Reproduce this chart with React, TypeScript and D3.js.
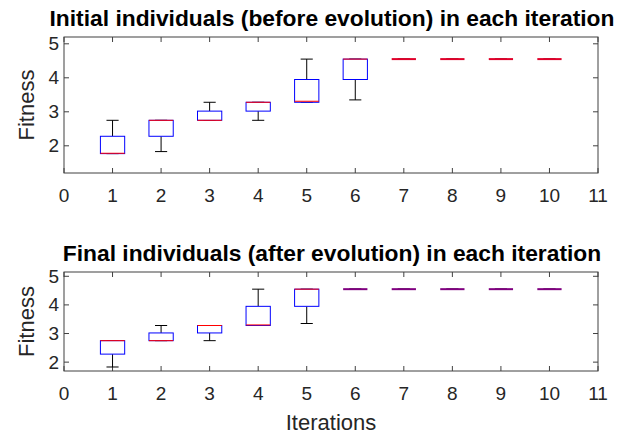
import React from 'react';
import * as d3 from 'd3';

// iterations 1..10, box stats per iteration
const iterations = [1, 2, 3, 4, 5, 6, 7, 8, 9, 10];
const xTicks = [0, 1, 2, 3, 4, 5, 6, 7, 8, 9, 10, 11];
const yTicks = [2, 3, 4, 5];

// Initial individuals
const initLow = [1.77, 1.83, 2.75, 2.75, 3.28, 3.35, 4.55, 4.55, 4.55, 4.55];
const initQ1 = [1.77, 2.28, 2.75, 3.02, 3.28, 3.95, 4.55, 4.55, 4.55, 4.55];
const initMed = [1.78, 2.75, 2.75, 3.28, 3.31, 4.55, 4.55, 4.55, 4.55, 4.55];
const initQ3 = [2.28, 2.75, 3.02, 3.28, 3.95, 4.55, 4.55, 4.55, 4.55, 4.55];
const initHigh = [2.75, 2.75, 3.28, 3.28, 4.55, 4.55, 4.55, 4.55, 4.55, 4.55];

// Final individuals
const finalLow = [1.83, 2.75, 2.75, 3.28, 3.35, 4.55, 4.55, 4.55, 4.55, 4.55];
const finalQ1 = [2.28, 2.75, 3.02, 3.28, 3.95, 4.55, 4.55, 4.55, 4.55, 4.55];
const finalMed = [2.75, 2.75, 3.28, 3.3, 4.55, 4.55, 4.55, 4.55, 4.55, 4.55];
const finalQ3 = [2.75, 3.02, 3.28, 3.95, 4.55, 4.55, 4.55, 4.55, 4.55, 4.55];
const finalHigh = [2.75, 3.28, 3.28, 4.55, 4.55, 4.55, 4.55, 4.55, 4.55, 4.55];

const FONT = '"Liberation Sans", Arial, Helvetica, sans-serif';
const AXIS = '#404040';
const TEXT = '#262626';

interface PanelProps {
  top: number;
  bottom: number;
  yDomain: [number, number];
  title: string;
  low: number[];
  q1: number[];
  med: number[];
  q3: number[];
  high: number[];
  flatColor: string;
}

const left = 64;
const right = 598;

const Panel: React.FC<PanelProps> = ({ top, bottom, yDomain, title, low, q1, med, q3, high, flatColor }) => {
  const x = d3.scaleLinear().domain([0, 11]).range([left, right]);
  const y = d3.scaleLinear().domain(yDomain).range([bottom, top]);
  const halfBox = x(0.25) - x(0);
  const halfCap = x(0.125) - x(0);
  const tick = 5;

  return (
    <g>
      <text x={(left + right) / 2 + 1} y={top - 11} textAnchor="middle" fontFamily={FONT} fontSize={22.8} fontWeight="bold" fill="#000">{title}</text>
      <rect x={left} y={top} width={right - left} height={bottom - top} fill="#fff" stroke={AXIS} strokeWidth={1} />
      {xTicks.map(t => (
        <g key={'x' + t}>
          <line x1={x(t)} x2={x(t)} y1={bottom} y2={bottom - tick} stroke={AXIS} />
          <line x1={x(t)} x2={x(t)} y1={top} y2={top + tick} stroke={AXIS} />
          <text x={x(t)} y={bottom + 29} textAnchor="middle" fontFamily={FONT} fontSize={19} fill={TEXT}>{t}</text>
        </g>
      ))}
      {yTicks.map(t => (
        <g key={'y' + t}>
          <line x1={left} x2={left + tick} y1={y(t)} y2={y(t)} stroke={AXIS} />
          <line x1={right} x2={right - tick} y1={y(t)} y2={y(t)} stroke={AXIS} />
          <text x={left - 5} y={y(t) + 6.5} textAnchor="end" fontFamily={FONT} fontSize={19} fill={TEXT}>{t}</text>
        </g>
      ))}
      <text transform={`translate(34,${(top + bottom) / 2}) rotate(-90)`} textAnchor="middle" fontFamily={FONT} fontSize={22} fill={TEXT}>Fitness</text>
      {iterations.map((it, i) => {
        const cx = x(it);
        const flat = q1[i] === q3[i];
        return (
          <g key={'b' + it}>
            <line x1={cx} x2={cx} y1={y(high[i])} y2={y(q3[i])} stroke="#000" strokeWidth={1} />
            <line x1={cx} x2={cx} y1={y(q1[i])} y2={y(low[i])} stroke="#000" strokeWidth={1} />
            <line x1={cx - halfCap} x2={cx + halfCap} y1={y(high[i])} y2={y(high[i])} stroke="#000" strokeWidth={1} />
            <line x1={cx - halfCap} x2={cx + halfCap} y1={y(low[i])} y2={y(low[i])} stroke="#000" strokeWidth={1} />
            <rect x={cx - halfBox} y={y(q3[i])} width={halfBox * 2} height={y(q1[i]) - y(q3[i])} fill={flat ? 'none' : '#fff'} stroke="#0000ff" strokeWidth={flat ? 2 : 1} />
            <line x1={cx - halfBox} x2={cx + halfBox} y1={y(med[i])} y2={y(med[i])} stroke={flat ? flatColor : '#ff0000'} strokeWidth={flat ? 2 : 1} />
          </g>
        );
      })}
    </g>
  );
};

export default function App() {
  return (
    <svg width={630} height={435} style={{ position: 'absolute', left: 0, top: 0, background: '#fff' }}>
      <rect x={0} y={0} width={630} height={435} fill="#fff" />
      <Panel top={37} bottom={173} yDomain={[1.2, 5.2]} title="Initial individuals (before evolution) in each iteration"
        low={initLow} q1={initQ1} med={initMed} q3={initQ3} high={initHigh} flatColor="#e0002a" />
      <Panel top={272} bottom={371} yDomain={[1.69, 5.15]} title="Final individuals (after evolution) in each iteration"
        low={finalLow} q1={finalQ1} med={finalMed} q3={finalQ3} high={finalHigh} flatColor="#800080" />
      <text x={331} y={430} textAnchor="middle" fontFamily={FONT} fontSize={22} fill={TEXT}>Iterations</text>
    </svg>
  );
}
